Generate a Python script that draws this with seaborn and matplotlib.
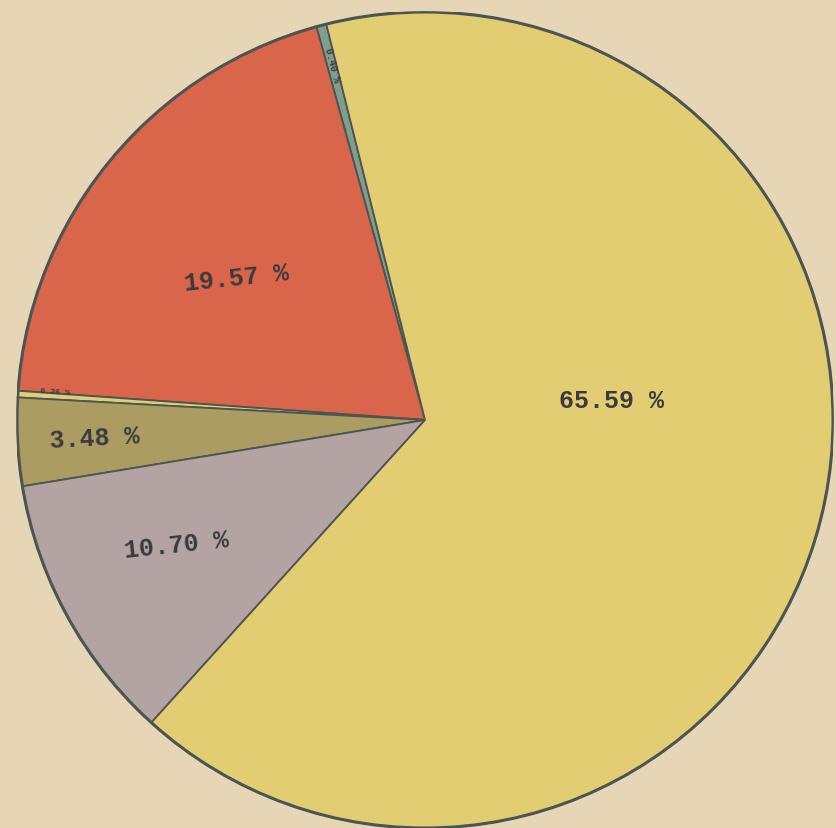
import numpy as np
import matplotlib
matplotlib.use("Agg")
import matplotlib.pyplot as plt
import seaborn as sns

# slice shares (percent), counter-clockwise starting at the top
labels = ["0.40 %", "19.57 %", "0.26 %", "3.48 %", "10.70 %", "65.59 %"]
shares = [0.40, 19.57, 0.26, 3.48, 10.70, 65.59]
colors = ["#7f9f8c", "#d9654b", "#dccf78", "#ab9c61", "#b3a3a2", "#e2cd73"]

# label placement in polar form (angle in degrees, radius as fraction)
label_angle = [104.6, 143, 175.6, 183, 206.6, 6]
label_radius = [0.90, 0.58, 0.91, 0.81, 0.68, 0.46]
label_rot = [-75.5, 6, -4, 3, 6, 0]
label_size = [7, 18, 6, 18, 18, 18]

sns.set_theme(style="white")
paper = "#e7d6b6"
ink = "#3b3a3f"

fig = plt.figure(figsize=(8.37, 8.29), dpi=100, facecolor=paper)
W, H = 837, 829
cx, cy, r = 425, 829 - 421, 408
ax = fig.add_axes([(cx - r) / W, (cy - r) / H, 2 * r / W, 2 * r / H])
ax.set_facecolor(paper)

wedges, _ = ax.pie(shares, colors=colors, startangle=104, counterclock=True,
                   radius=1.0,
                   wedgeprops=dict(edgecolor="#4b5551", linewidth=1.3))
# heavier outer rim, as on the print
ax.add_patch(plt.Circle((0, 0), 1.0, fill=False, edgecolor="#4b5551", linewidth=2.2))
ax.set_xlim(-1, 1)
ax.set_ylim(-1, 1)
ax.set_aspect("equal")
ax.axis("off")

for lab, a, rr, rot, fs in zip(labels, label_angle, label_radius, label_rot, label_size):
    t = np.deg2rad(a)
    ax.text(rr * np.cos(t), rr * np.sin(t), lab, ha="center", va="center",
            rotation=rot, rotation_mode="anchor", fontsize=fs,
            family=["Liberation Mono", "DejaVu Sans Mono"], fontweight="bold",
            color=ink)

fig.savefig("out.png", dpi=100, facecolor=paper)
